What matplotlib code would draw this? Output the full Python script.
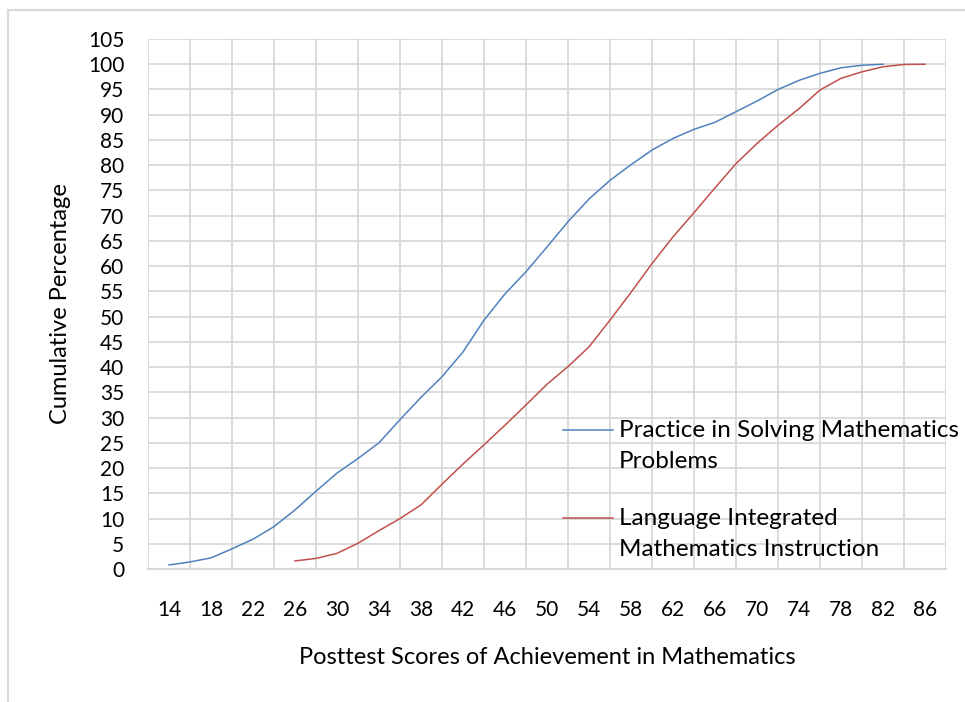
import matplotlib
matplotlib.use("Agg")
import matplotlib.pyplot as plt
from matplotlib.patches import Rectangle
from matplotlib.lines import Line2D
import numpy as np

plt.rcParams['font.family'] = ['Lato', 'DejaVu Sans']

# Data
practice_x = [14, 16, 18, 20, 22, 24, 26, 28, 30, 32, 34, 36, 38, 40, 42, 44, 46, 48,
              50, 52, 54, 56, 58, 60, 62, 64, 66, 68, 70, 72, 74, 76, 78, 80, 82]
practice_y = [0.8, 1.4, 2.2, 4.0, 5.9, 8.4, 11.7, 15.4, 19.0, 21.9, 25.0, 29.6, 34.0, 38.1,
              43.0, 49.3, 54.5, 58.9, 63.8, 68.8, 73.3, 77.0, 80.1, 83.0, 85.3, 87.1, 88.5,
              90.6, 92.7, 95.0, 96.8, 98.2, 99.3, 99.8, 100.0]
language_x = [26, 28, 30, 32, 34, 36, 38, 40, 42, 44, 46, 48, 50, 52, 54, 56, 58, 60,
              62, 64, 66, 68, 70, 72, 74, 76, 78, 80, 82, 84, 86]
language_y = [1.6, 2.1, 3.1, 5.1, 7.6, 10.0, 12.7, 16.8, 20.8, 24.6, 28.5, 32.5, 36.6,
              40.1, 44.0, 49.3, 54.8, 60.5, 65.8, 70.6, 75.5, 80.3, 84.3, 87.9, 91.2, 94.9,
              97.2, 98.5, 99.5, 99.95, 100.0]
x_tick_labels = [14, 18, 22, 26, 30, 34, 38, 42, 46, 50, 54, 58, 62, 66, 70, 74, 78, 82, 86]
y_ticks = list(range(0, 106, 5))
series_names = ["Practice in Solving Mathematics\nProblems",
                "Language Integrated\nMathematics Instruction"]

W, H = 965, 702
fig = plt.figure(figsize=(W / 100, H / 100), dpi=100)
fig.patch.set_facecolor("white")

# outer chart border
fig.patches.append(Rectangle((8 / W, -0.1), 1.2, 1 - 10 / H + 0.1, transform=fig.transFigure,
                             fill=False, edgecolor="#d9d9d9", linewidth=1.5))

L, R, T, B = 148, 946, 39, 569
ax = fig.add_axes([L / W, 1 - B / H, (R - L) / W, (B - T) / H])

blue = "#4F81BD"
red = "#C0504D"
colors = [blue, red]
ax.plot(practice_x, practice_y, color=blue, lw=1.1)
ax.plot(language_x, language_y, color=red, lw=1.1)

ax.set_xlim(12, 88)
ax.set_ylim(0, 105)
ax.set_xticks(np.arange(12, 89, 4), minor=False)
ax.set_xticklabels([])
ax.set_xticks(x_tick_labels, minor=True)
ax.set_xticklabels([str(v) for v in x_tick_labels], minor=True, fontsize=15)
ax.set_yticks(y_ticks)
ax.set_yticklabels([str(v) for v in y_ticks], fontsize=15)
ax.tick_params(axis="x", which="both", length=0, pad=22)
ax.tick_params(axis="y", length=0, pad=17)
ax.grid(True, which="major", color="#d9d9d9", lw=1.3)
ax.set_axisbelow(True)
for s in ["top", "right", "left"]:
    ax.spines[s].set_visible(False)
ax.spines["bottom"].set_color("#d9d9d9")
ax.spines["bottom"].set_linewidth(1.6)

ax.set_xlabel("Posttest Scores of Achievement in Mathematics", fontsize=17, labelpad=20)
ax.set_ylabel("Cumulative Percentage", fontsize=17, labelpad=12)

# legend (manual, no frame), each entry's line aligned with the first text line
leg_rows = [430, 518]
for name, c, yy in zip(series_names, colors, leg_rows):
    fig.add_artist(Line2D([563 / W, 613 / W], [1 - yy / H, 1 - yy / H],
                          transform=fig.transFigure, color=c, lw=1.1))
    fig.text(619 / W, 1 - (yy - 10) / H, name, fontsize=17.5, ha="left", va="top",
             linespacing=1.6)

fig.savefig("out.png", dpi=100)
